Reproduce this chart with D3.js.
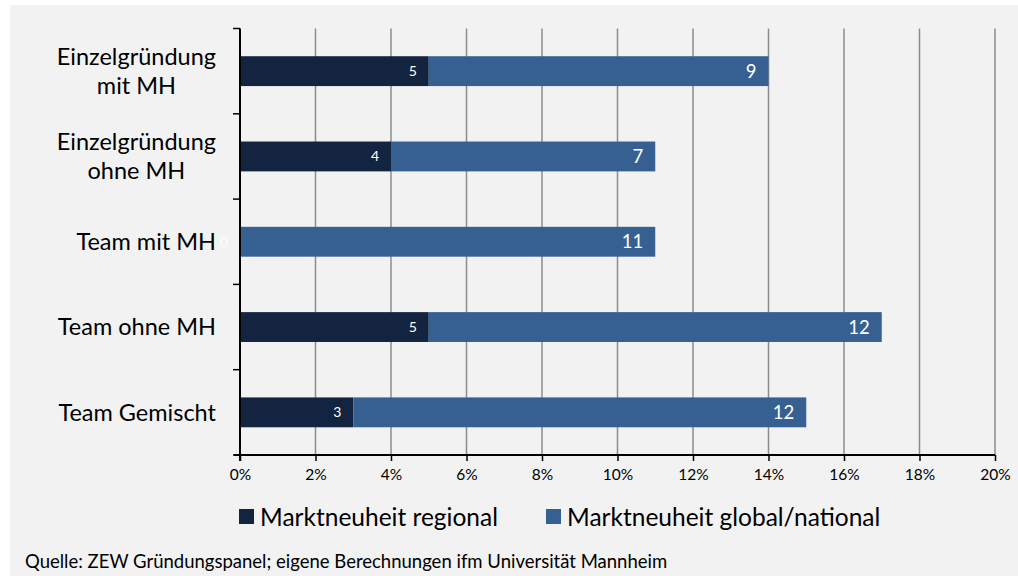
<!DOCTYPE html>
<html>
<head>
<meta charset="utf-8">
<script src="https://cdn.jsdelivr.net/npm/d3@7"></script>
<style>
html,body{margin:0;padding:0;background:#ffffff;}
svg{display:block;}
text{font-family:Lato,"Open Sans",sans-serif;}
</style>
</head>
<body>
<svg id="chart" width="1018" height="576"></svg>
<script>
const categories = [["Einzelgründung","mit MH"],["Einzelgründung","ohne MH"],["Team mit MH"],["Team ohne MH"],["Team Gemischt"]];
const regional = [5, 4, 0, 5, 3];
const globalNational = [9, 7, 11, 12, 12];
const seriesNames = ["Marktneuheit regional", "Marktneuheit global/national"];
const xTicks = [0, 2, 4, 6, 8, 10, 12, 14, 16, 18, 20];
const source = "Quelle: ZEW Gründungspanel; eigene Berechnungen ifm Universität Mannheim";

(function(){
const colors = ["#12243f", "#376092"];
const svg = d3.select("#chart");
svg.append("rect").attr("x",10).attr("y",5).attr("width",1008).attr("height",571).attr("fill","#f2f2f2");

const mLeft = 240, mRight = 995, mTop = 28.5, mBottom = 455;
const x = d3.scaleLinear().domain([0,20]).range([mLeft,mRight]);
const y = d3.scaleBand().domain(d3.range(categories.length)).range([mTop,mBottom]).paddingInner(0.65).paddingOuter(0.325);
const yb = d3.scaleBand().domain(d3.range(categories.length)).range([mTop,mBottom]);

// gridlines
svg.append("g").selectAll("line").data(xTicks.filter(d=>d>0)).join("line")
  .attr("x1",d=>x(d)).attr("x2",d=>x(d)).attr("y1",mTop).attr("y2",mBottom)
  .attr("stroke","#8c8c8c").attr("stroke-width",1.5);

// bars
const rows = categories.map((c,i)=>({i, r:regional[i], g:globalNational[i]}));
const bars = svg.append("g");
bars.selectAll("rect.r").data(rows).join("rect").attr("class","r")
  .attr("x",d=>x(0)).attr("width",d=>x(d.r)-x(0))
  .attr("y",d=>y(d.i)).attr("height",y.bandwidth()).attr("fill",colors[0]);
bars.selectAll("rect.g").data(rows).join("rect").attr("class","g")
  .attr("x",d=>x(d.r)).attr("width",d=>x(d.r+d.g)-x(d.r))
  .attr("y",d=>y(d.i)).attr("height",y.bandwidth()).attr("fill",colors[1]);

// data labels
bars.selectAll("text.r").data(rows).join("text").attr("class","r")
  .attr("x",d=>x(d.r)-12).attr("y",d=>y(d.i)+y.bandwidth()/2).attr("dy","0.36em")
  .attr("text-anchor","end").attr("fill","#ffffff").attr("font-size",14).text(d=>d.r);
bars.selectAll("text.g").data(rows).join("text").attr("class","g")
  .attr("x",d=>x(d.r+d.g)-12).attr("y",d=>y(d.i)+y.bandwidth()/2).attr("dy","0.36em")
  .attr("text-anchor","end").attr("fill","#ffffff").attr("font-size",18.5).text(d=>d.g);

// x axis
const xAxis = svg.append("g").attr("transform",`translate(0,${mBottom})`)
  .call(d3.axisBottom(x).tickValues(xTicks).tickFormat(d=>d+"%").tickSize(6).tickPadding(8));
xAxis.select(".domain").attr("stroke","#000").attr("stroke-width",2).attr("d",`M${mLeft-6},0H${mRight}`);
xAxis.selectAll(".tick line").attr("stroke","#000").attr("stroke-width",1.5);
xAxis.selectAll(".tick text").attr("font-size",15.5).attr("fill","#000").style("font-family","Lato,sans-serif");

// y axis
const yAxis = svg.append("g").attr("transform",`translate(${mLeft},0)`);
yAxis.append("line").attr("x1",0).attr("x2",0).attr("y1",mTop).attr("y2",mBottom+6).attr("stroke","#000").attr("stroke-width",2);
yAxis.selectAll("line.t").data(d3.range(categories.length+1)).join("line").attr("class","t")
  .attr("x1",-7).attr("x2",0)
  .attr("y1",d=>d<categories.length?yb(d):mBottom).attr("y2",d=>d<categories.length?yb(d):mBottom)
  .attr("stroke","#000").attr("stroke-width",1.5);

// category labels
const labelRight = 216, lineH = 29;
categories.forEach((lines,i)=>{
  const g = svg.append("g");
  const cy = yb(i)+yb.bandwidth()/2;
  const t = g.selectAll("text").data(lines).join("text")
    .attr("font-size",23.5).attr("fill","#000").attr("text-anchor","middle")
    .attr("y",(d,k)=>cy + (k-(lines.length-1)/2)*lineH).attr("dy","0.35em").text(d=>d);
  let maxW = 0; t.each(function(){maxW=Math.max(maxW,this.getComputedTextLength());});
  t.attr("x",labelRight-maxW/2);
});

// legend
const leg = svg.append("g");
const legX = [239, 546];
seriesNames.forEach((n,i)=>{
  leg.append("rect").attr("x",legX[i]).attr("y",509).attr("width",15).attr("height",15).attr("fill",colors[i]);
  leg.append("text").attr("x",legX[i]+21).attr("y",517).attr("dy","0.35em").attr("font-size",24.5).attr("fill","#000").text(n);
});

// source
svg.append("text").attr("x",25).attr("y",562).attr("dy","0.35em").attr("font-size",18.5).attr("fill","#000").text(source);
})();
</script>
</body>
</html>
